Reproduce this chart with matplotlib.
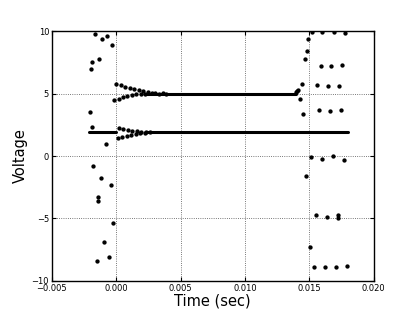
import numpy as np
import matplotlib.pyplot as plt

# scattered samples before the trigger (sec, volts)
pre_t = [-0.00164, -0.00107, -0.00070, -0.00034, -0.00190, -0.00195, -0.00130,
         -0.00200, -0.00187, -0.00083, -0.00177, -0.00117, -0.00044, -0.00142,
         -0.00138, -0.00021, -0.00094, -0.00055, -0.00153]
pre_v = [9.74, 9.34, 9.63, 8.88, 7.50, 7.00, 7.76,
         3.55, 2.32, 0.96, -0.80, -1.73, -2.32, -3.25,
         -3.58, -5.36, -6.90, -8.10, -8.43]

# scattered samples after the step
post_t = [0.01523, 0.01601, 0.01695, 0.01778, 0.01492, 0.01484, 0.01464,
          0.01589, 0.01671, 0.01757, 0.01441, 0.01562, 0.01648, 0.01731,
          0.01414, 0.01425, 0.01449, 0.01573, 0.01659, 0.01745,
          0.01513, 0.01599, 0.01685, 0.01768, 0.01474,
          0.01550, 0.01636, 0.01721, 0.01723, 0.01503,
          0.01539, 0.01625, 0.01708, 0.01794, 0.01400, 0.01407]
post_v = [9.90, 9.90, 9.90, 9.85, 9.40, 8.45, 7.80,
          7.22, 7.22, 7.30, 5.78, 5.65, 5.62, 5.62,
          5.25, 4.56, 3.40, 3.70, 3.62, 3.65,
          -0.10, -0.24, -0.03, -0.35, -1.57,
          -4.70, -4.88, -4.70, -5.00, -7.30,
          -8.88, -8.88, -8.88, -8.78, 5.10, 5.18]

# ringing on the 5 V trace
r5_t = [0.00000, 0.00034, 0.00069, 0.00104, 0.00139, 0.00174, 0.00209, 0.00244, 0.00279,
        -0.00015, 0.00018, 0.00052, 0.00087, 0.00122, 0.00157, 0.00192, 0.00227,
        0.00300, 0.00330, 0.00360, 0.00390]
r5_v = [5.78, 5.66, 5.55, 5.46, 5.36, 5.28, 5.20, 5.13, 5.08,
        4.50, 4.60, 4.70, 4.80, 4.88, 4.95, 4.98, 5.00,
        5.06, 4.95, 5.05, 4.97]

# ringing on the 1.9 V trace
r2_t = [0.00020, 0.00055, 0.00090, 0.00125, 0.00160, 0.00195, 0.00230, 0.00265,
        0.00013, 0.00048, 0.00083, 0.00118, 0.00153, 0.00188, 0.00223]
r2_v = [2.27, 2.18, 2.10, 2.03, 1.98, 1.95, 1.93, 1.91,
        1.42, 1.52, 1.60, 1.68, 1.76, 1.82, 1.86]

# flat stretches of the traces: start, end, level
flat_start = [-0.00208, 0.00250, 0.00220]
flat_end = [0.00000, 0.01800, 0.01395]
flat_level = [1.90, 1.90, 5.00]

fig = plt.figure(figsize=(4.15, 3.12), dpi=100)
ax = fig.add_axes([0.125, 0.1, 0.775, 0.8])

for x0, x1, lv in zip(flat_start, flat_end, flat_level):
    ax.plot([x0, x1], [lv, lv], color='k', lw=2.2, solid_capstyle='round')

dot = dict(ls='none', marker='o', ms=2.1, color='k', mec='k')
ax.plot(pre_t, pre_v, **dot)
ax.plot(post_t, post_v, **dot)
ax.plot(r5_t, r5_v, **dot)
ax.plot(r2_t, r2_v, **dot)

ax.set_xlim(-0.005, 0.020)
ax.set_ylim(-10, 10)
ax.set_xticks([-0.005, 0.0, 0.005, 0.010, 0.015, 0.020])
ax.set_xticklabels(['\u22120.005', '0.000', '0.005', '0.010', '0.015', '0.020'])
ax.set_yticks([-10, -5, 0, 5, 10])
ax.set_yticklabels(['\u221210', '\u22125', '0', '5', '10'])
ax.tick_params(direction='in', top=True, right=True, labelsize=6, length=3, pad=2)
ax.grid(True, color='k', ls=':', lw=0.6, alpha=0.7)
for s in ax.spines.values():
    s.set_linewidth(1.0)

ax.set_xlabel('Time (sec)', fontsize=10.5, labelpad=1)
ax.set_ylabel('Voltage', fontsize=10.5, labelpad=3)

fig.savefig('out.png', dpi=100, facecolor='white')
